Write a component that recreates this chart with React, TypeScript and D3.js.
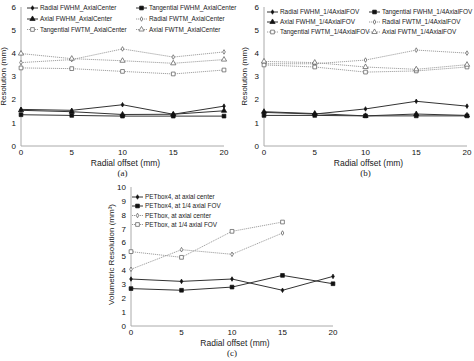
import React, { useEffect, useRef } from 'react';
import * as d3 from 'd3';

const offsets = [0, 5, 10, 15, 20];
const offsetsPetbox = [0, 5, 10, 15];
const xTicks = [0, 5, 10, 15, 20];
const yTicksAB = [0, 1, 2, 3, 4, 5, 6];
const yTicksC = [0, 1, 2, 3, 4, 5, 6, 7, 8, 9, 10];

// panel (a) axial center
const radialFwhmA = [1.58, 1.54, 1.78, 1.37, 1.72];
const tangFwhmA = [1.35, 1.32, 1.29, 1.29, 1.29];
const axialFwhmA = [1.54, 1.48, 1.36, 1.37, 1.52];
const radialFwtmA = [3.6, 3.73, 4.19, 3.84, 4.06];
const tangFwtmA = [3.37, 3.34, 3.22, 3.11, 3.28];
const axialFwtmA = [3.99, 3.77, 3.68, 3.57, 3.73];

// panel (b) 1/4 axial FOV
const radialFwhmB = [1.45, 1.38, 1.6, 1.93, 1.72];
const tangFwhmB = [1.32, 1.32, 1.3, 1.3, 1.3];
const axialFwhmB = [1.48, 1.4, 1.3, 1.38, 1.32];
const radialFwtmB = [3.55, 3.55, 3.71, 4.14, 4.01];
const tangFwtmB = [3.5, 3.41, 3.19, 3.24, 3.41];
const axialFwtmB = [3.65, 3.6, 3.41, 3.31, 3.51];

// panel (c) volumetric
const pet4Center = [3.38, 3.21, 3.38, 2.57, 3.57];
const pet4Quarter = [2.69, 2.57, 2.8, 3.64, 3.04];
const petCenter = [4.08, 5.49, 5.16, 6.69];
const petQuarter = [5.35, 4.94, 6.81, 7.48];

const FONT = 'Liberation Sans, Arial, sans-serif';

type Series = { name: string; x: number[]; y: number[]; marker: string; open: boolean; dotted: boolean };

const mk = (name, x, y, marker, wtm) => ({ name, x, y, marker, open: wtm, dotted: wtm });

const seriesA: Series[] = [
  mk('Radial FWHM_AxialCenter', offsets, radialFwhmA, 'dot', false),
  mk('Tangential FWHM_AxialCenter', offsets, tangFwhmA, 'square', false),
  mk('Axial FWHM_AxialCenter', offsets, axialFwhmA, 'triangle', false),
  mk('Radial FWTM_AxialCenter', offsets, radialFwtmA, 'dot', true),
  mk('Tangential FWTM_AxialCenter', offsets, tangFwtmA, 'square', true),
  mk('Axial FWTM_AxialCenter', offsets, axialFwtmA, 'triangle', true),
];
const seriesB: Series[] = [
  mk('Radial FWHM_1/4AxialFOV', offsets, radialFwhmB, 'dot', false),
  mk('Tangential FWHM_1/4AxialFOV', offsets, tangFwhmB, 'square', false),
  mk('Axial FWHM_1/4AxialFOV', offsets, axialFwhmB, 'triangle', false),
  mk('Radial FWTM_1/4AxialFOV', offsets, radialFwtmB, 'dot', true),
  mk('Tangential FWTM_1/4AxialFOV', offsets, tangFwtmB, 'square', true),
  mk('Axial FWTM_1/4AxialFOV', offsets, axialFwtmB, 'triangle', true),
];
const seriesC: Series[] = [
  mk('PETbox4, at axial center', offsets, pet4Center, 'dot', false),
  mk('PETbox4, at 1/4 axial FOV', offsets, pet4Quarter, 'square', false),
  mk('PETbox, at axial center', offsetsPetbox, petCenter, 'dot', true),
  mk('PETbox, at 1/4 axial FOV', offsetsPetbox, petQuarter, 'square', true),
];

const symbolFor = (m) => {
  if (m === 'square') return d3.symbol(d3.symbolSquare, 14)();
  if (m === 'triangle') return d3.symbol(d3.symbolTriangle, 12)();
  return d3.symbol(d3.symbolDiamond, 6)();
};

const drawMarker = (g, m, open, x, y) => {
  g.append('path')
    .attr('d', symbolFor(m))
    .attr('transform', `translate(${x},${y})`)
    .attr('fill', open ? '#fff' : '#111')
    .attr('stroke', open ? '#555' : '#111')
    .attr('stroke-width', 0.7);
};

const Panel = ({ series, xRange, yRange, yMax, yTicks, yLabel, caption, legend }) => {
  const gRef = useRef(null);

  useEffect(() => {
    const g = d3.select(gRef.current);
    g.selectAll('*').remove();

    const x = d3.scaleLinear().domain([0, 20]).range(xRange);
    const y = d3.scaleLinear().domain([0, yMax]).range(yRange);

    // axes
    g.append('line').attr('x1', x(0)).attr('x2', x(0)).attr('y1', y(0)).attr('y2', y(yMax))
      .attr('stroke', '#aaa').attr('stroke-width', 1);
    g.append('line').attr('x1', x(0)).attr('x2', x(20)).attr('y1', y(0)).attr('y2', y(0))
      .attr('stroke', '#aaa').attr('stroke-width', 1);

    g.selectAll('.yt').data(yTicks).enter().append('text')
      .attr('x', x(0) - 5).attr('y', d => y(d) + 2.8)
      .attr('text-anchor', 'end').attr('font-size', 8).attr('font-family', FONT).attr('fill', '#111')
      .text(d => d);
    g.selectAll('.xt').data(xTicks).enter().append('text')
      .attr('x', d => x(d)).attr('y', y(0) + 9)
      .attr('text-anchor', 'middle').attr('font-size', 8).attr('font-family', FONT).attr('fill', '#111')
      .text(d => d);

    const midX = (x(0) + x(20)) / 2 + 3;
    g.append('text').attr('x', midX).attr('y', y(0) + 20)
      .attr('text-anchor', 'middle').attr('font-size', 8.5).attr('font-family', FONT).attr('fill', '#222')
      .text('Radial offset (mm)');
    g.append('text').attr('x', midX - 3).attr('y', y(0) + 30)
      .attr('text-anchor', 'middle').attr('font-size', 9).attr('font-family', 'Liberation Serif, serif').attr('fill', '#222')
      .text(caption);
    g.append('text')
      .attr('transform', `translate(${x(0) + legend.ylabX},${(y(0) + y(yMax)) / 2 + legend.ylabShift}) rotate(-90)`)
      .attr('text-anchor', 'middle').attr('font-size', 8).attr('font-family', FONT).attr('fill', '#222')
      .text(yLabel);

    const line = d3.line().x(d => x(d[0])).y(d => y(d[1]));

    // FWTM (dotted) first, then solid on top
    const order = [...series].sort((a, b) => Number(b.dotted) - Number(a.dotted));
    order.forEach(s => {
      const pts = s.x.map((v, i) => [v, s.y[i]]);
      g.append('path').attr('d', line(pts)).attr('fill', 'none')
        .attr('stroke', s.dotted ? '#999' : '#333')
        .attr('stroke-width', s.dotted ? 0.9 : 1)
        .attr('stroke-dasharray', s.dotted ? '1.2,0.8' : null);
      pts.forEach(p => drawMarker(g, s.marker, s.open, x(p[0]), y(p[1])));
    });

    // legend
    series.forEach((s, i) => {
      const col = legend.cols === 2 ? i % 2 : 0;
      const row = legend.cols === 2 ? Math.floor(i / 2) : i;
      const lx = legend.x[col];
      const ly = legend.y[row];
      g.append('line').attr('x1', lx).attr('x2', lx + 11).attr('y1', ly).attr('y2', ly)
        .attr('stroke', s.dotted ? '#999' : '#333').attr('stroke-width', 1)
        .attr('stroke-dasharray', s.dotted ? '1.2,0.8' : null);
      drawMarker(g, s.marker, s.open, lx + 5.5, ly);
      g.append('text').attr('x', lx + 13).attr('y', ly + 2.2)
        .attr('font-size', 6.4).attr('font-family', FONT).attr('fill', '#222')
        .text(s.name);
    });
  }, [series, xRange, yRange, yMax, yTicks, yLabel, caption, legend]);

  return <g ref={gRef}></g>;
};

const legendA = { cols: 2, x: [27, 136], y: [8, 19, 29.5], ylabX: -15, ylabShift: 0 };
const legendB = { cols: 2, x: [267, 369], y: [12, 22, 32], ylabX: -17, ylabShift: 0 };
const legendC = { cols: 1, x: [132], y: [197, 206, 215.5, 224.5], ylabX: -17, ylabShift: -2 };

export default function App() {
  return (
    <svg width={474} height={361} style={{ position: 'absolute', left: 0, top: 0, background: '#fff' }}>
      <rect width={474} height={361} fill="#fff" />
      <Panel series={seriesA} xRange={[21, 224]} yRange={[146, 7]} yMax={6} yTicks={yTicksAB}
        yLabel="Resolution (mm)" caption="(a)" legend={legendA} />
      <Panel series={seriesB} xRange={[264, 467]} yRange={[146, 7]} yMax={6} yTicks={yTicksAB}
        yLabel="Resolution (mm)" caption="(b)" legend={legendB} />
      <Panel series={seriesC} xRange={[131, 333]} yRange={[326, 187]} yMax={10} yTicks={yTicksC}
        yLabel="Volumetric Resolution (mm³)" caption="(c)" legend={legendC} />
    </svg>
  );
}
